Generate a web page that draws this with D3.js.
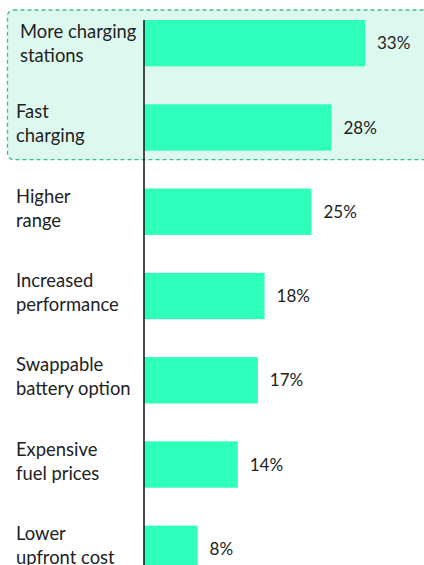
<!DOCTYPE html>
<html>
<head>
<meta charset="utf-8">
<script src="https://cdn.jsdelivr.net/npm/d3@7"></script>
<style>
  body { margin: 0; background: #fff; }
  svg { display: block; font-family: Lato, "Open Sans", sans-serif; }
</style>
</head>
<body>
<div id="chart"></div>
<script>
// reasons for buying an EV, share of respondents
var categories = [
  ["More charging", "stations"],
  ["Fast", "charging"],
  ["Higher", "range"],
  ["Increased", "performance"],
  ["Swappable", "battery option"],
  ["Expensive", "fuel prices"],
  ["Lower", "upfront cost"]
];
var values = [33, 28, 25, 18, 17, 14, 8];
var highlighted = [0, 1]; // rows inside the dashed box

var width = 424, height = 565;
var barColor = "#2effbb";

var svg = d3.select("#chart").append("svg")
  .attr("width", width)
  .attr("height", height);

var y = d3.scaleBand()
  .domain(d3.range(values.length))
  .range([20, 572])
  .paddingInner(0.45)
  .paddingOuter(0);

var x = d3.scaleLinear()
  .domain([0, d3.max(values)])
  .range([144, 365]);

// highlight box behind the top rows
var hFirst = y(highlighted[0]);
var hLast = y(highlighted[highlighted.length - 1]) + y.bandwidth();
svg.append("rect")
  .attr("x", 7.5)
  .attr("y", hFirst - 10)
  .attr("width", width + 10)
  .attr("height", hLast - hFirst + 19)
  .attr("rx", 6)
  .attr("fill", "#ddf9ef")
  .attr("stroke", "#3dbf8a")
  .attr("stroke-width", 1.3)
  .attr("stroke-dasharray", "4,3");

// bars
svg.selectAll("rect.bar")
  .data(values)
  .enter().append("rect")
  .attr("class", "bar")
  .attr("x", x(0))
  .attr("y", function(d, i) { return y(i); })
  .attr("width", function(d) { return x(d) - x(0); })
  .attr("height", y.bandwidth())
  .attr("fill", barColor);

// value labels
svg.selectAll("text.val")
  .data(values)
  .enter().append("text")
  .attr("class", "val")
  .attr("x", function(d) { return x(d) + 12; })
  .attr("y", function(d, i) { return y(i) + y.bandwidth() / 2; })
  .attr("dy", "0.36em")
  .attr("font-size", 17)
  .attr("fill", "#222")
  .text(function(d) { return d + "%"; });

// category labels, two lines each
var lab = svg.selectAll("text.cat")
  .data(categories)
  .enter().append("text")
  .attr("class", "cat")
  .attr("font-size", 18.4)
  .attr("fill", "#222");

lab.each(function(d, i) {
  var t = d3.select(this);
  var c = y(i) + y.bandwidth() / 2;
  var lx = i === 0 ? 20 : 16;
  var up = i === 0 ? -5 : -9;
  t.append("tspan").attr("x", lx).attr("y", c + up).text(d[0]);
  t.append("tspan").attr("x", lx).attr("y", c + up + 24).text(d[1]);
});

// axis line
svg.append("line")
  .attr("x1", x(0)).attr("x2", x(0))
  .attr("y1", 20).attr("y2", height)
  .attr("stroke", "#111")
  .attr("stroke-width", 1.5);
</script>
</body>
</html>
